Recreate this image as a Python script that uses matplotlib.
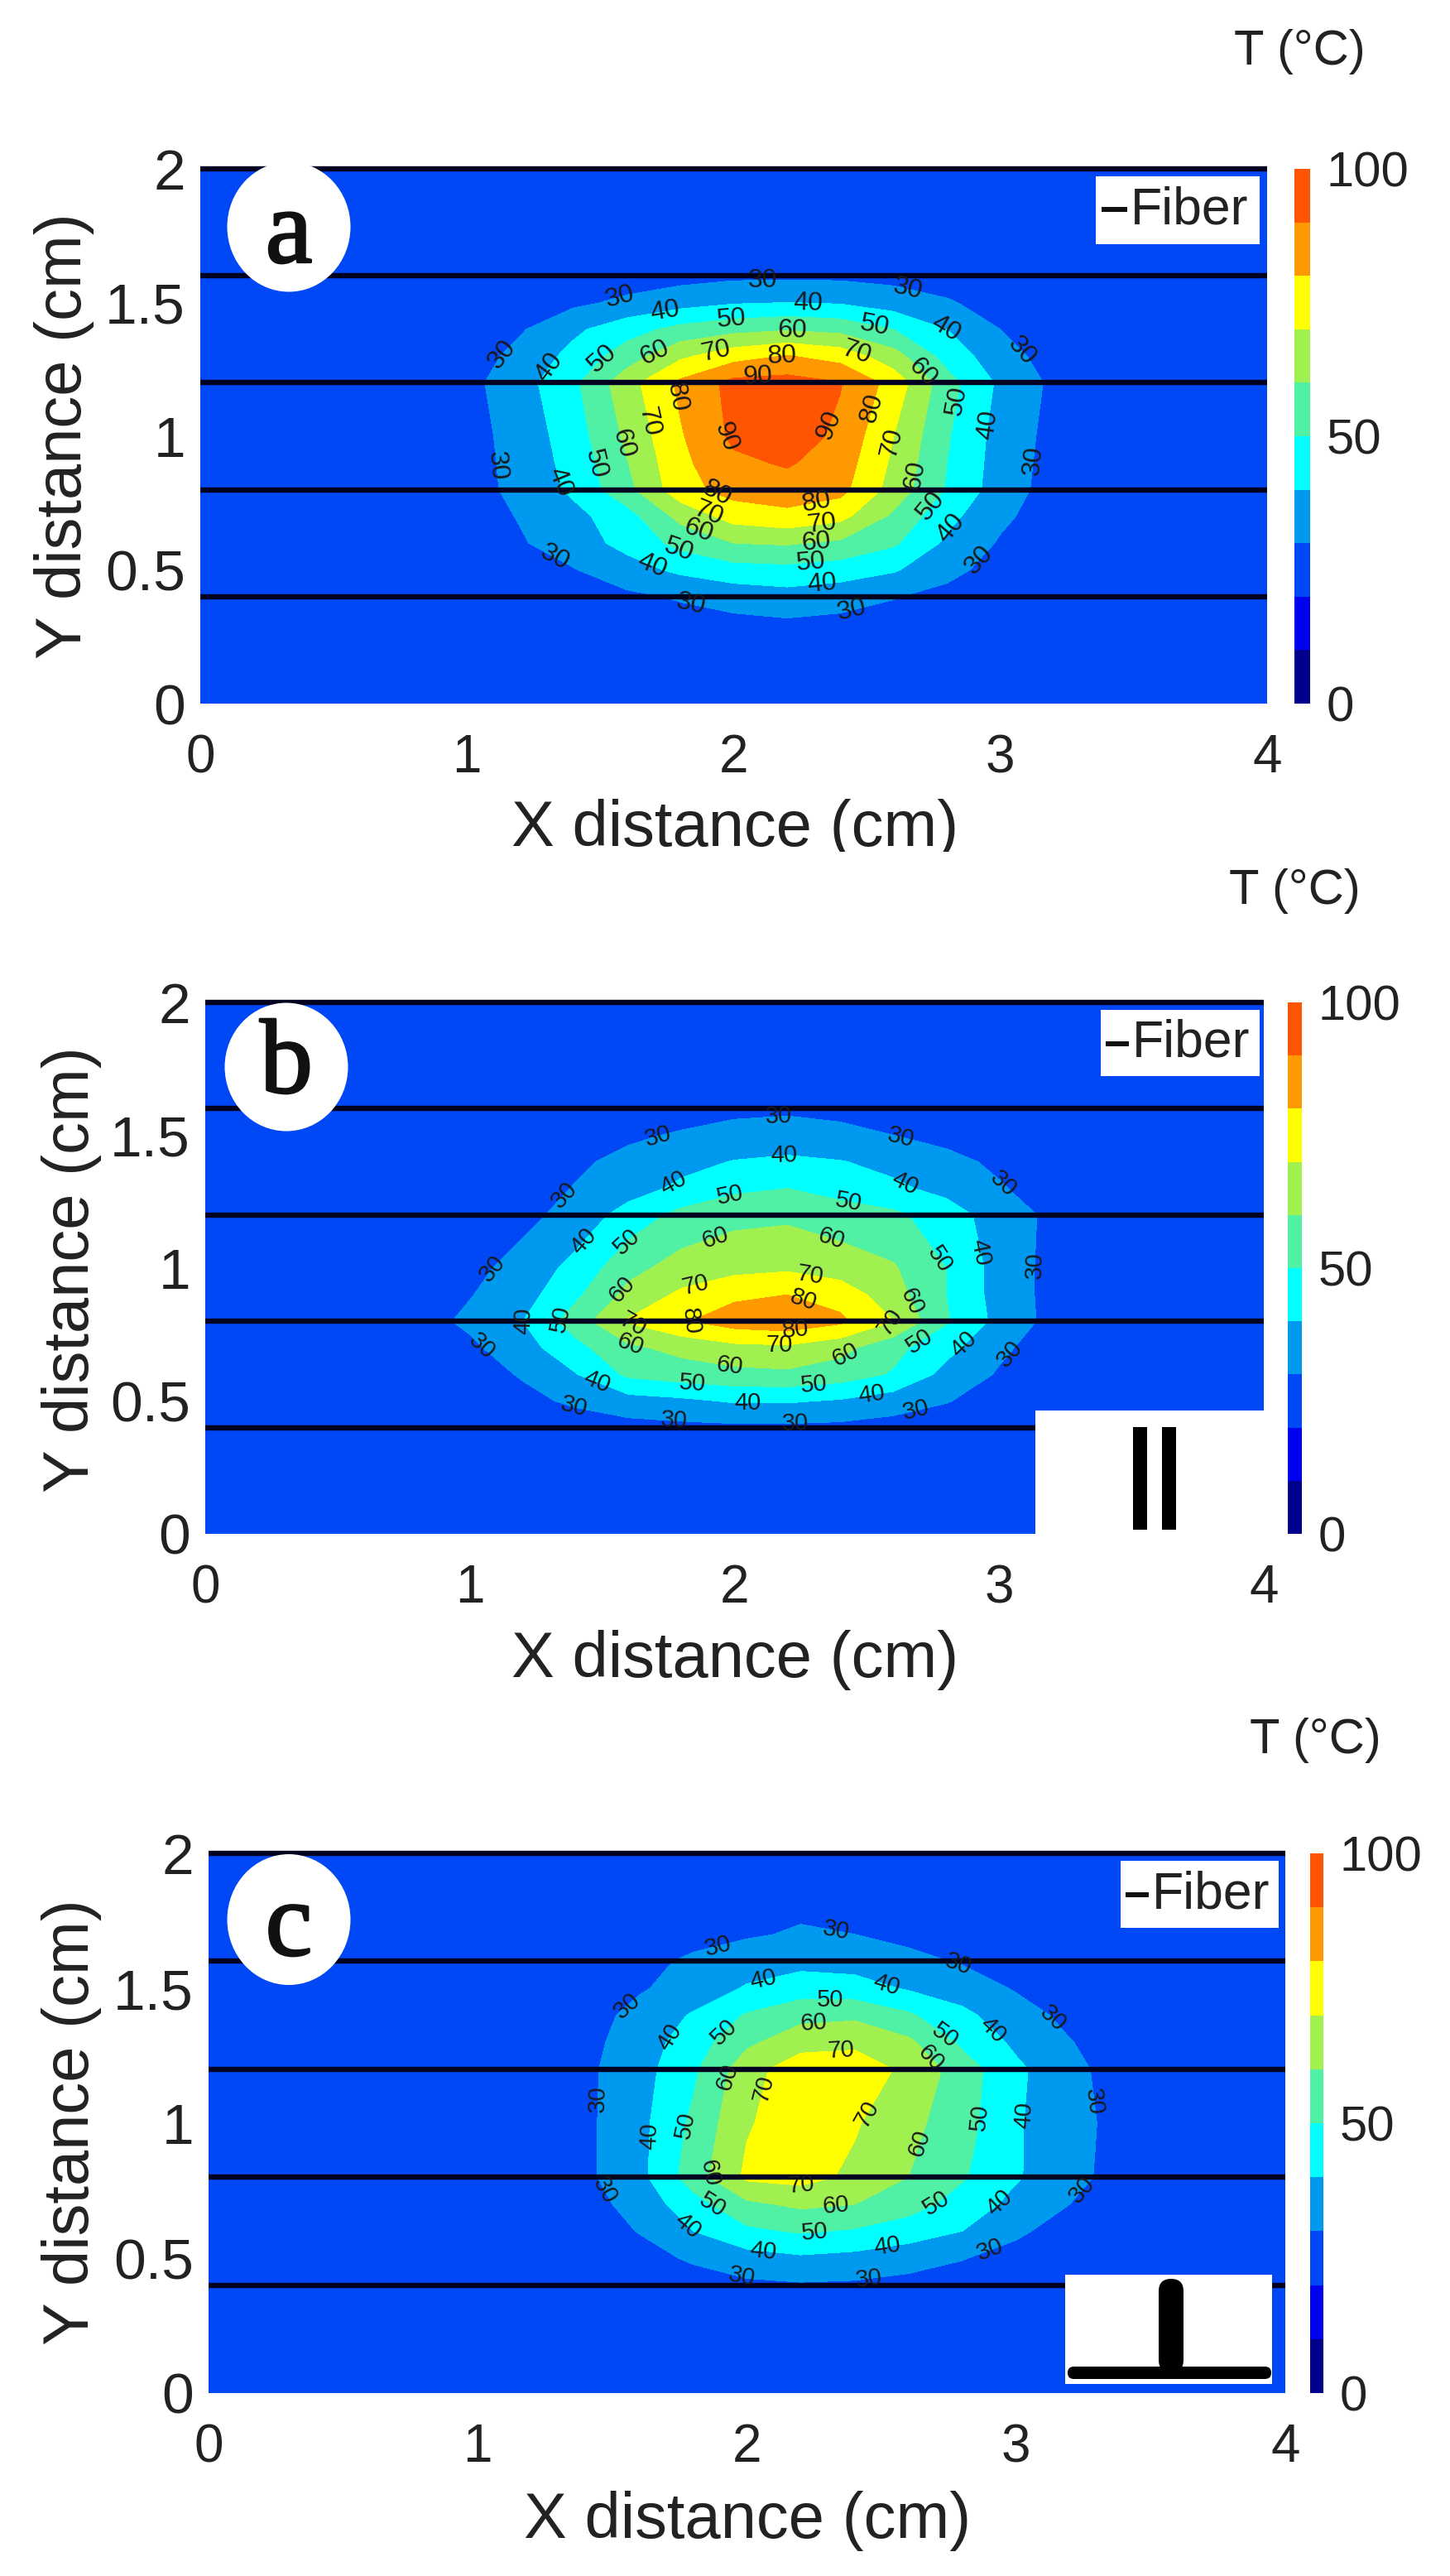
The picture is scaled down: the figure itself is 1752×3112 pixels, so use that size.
#!/usr/bin/env python3
"""Temperature maps around the fiber for three arrangements (a, b, c)."""
import matplotlib

matplotlib.use("Agg")
import matplotlib.pyplot as plt
import matplotlib.patheffects as pe
import numpy as np
from matplotlib.colors import ListedColormap
from matplotlib.patches import Ellipse, FancyBboxPatch, Rectangle

plt.rcParams["font.family"] = ["Liberation Sans", "DejaVu Sans"]

W, H = 1752, 3112
TEXT = "#222222"

# temperature, rows are y_rows, columns are x_cols
BACKGROUND = 23
x_cols = [0.8, 1.0, 1.2, 1.4, 1.6, 1.8, 2.0, 2.2, 2.4, 2.6, 2.8, 3.0, 3.2, 3.4]
y_rows = [0.3, 0.4, 0.5, 0.6, 0.7, 0.8, 0.9, 1.0, 1.2, 1.3, 1.4, 1.5, 1.6, 1.7]

temp_a = [
    [23, 23, 23, 24, 25, 26, 27.5, 28.5, 27.5, 26, 25, 24, 23, 23],
    [23, 23, 24, 25, 28, 31, 34, 36, 34, 30.5, 27, 24, 23, 23],
    [23, 23, 26, 29.5, 36, 42, 46, 47, 45, 41, 33, 26, 23, 23],
    [23, 24, 29, 35.3, 43, 53, 60, 61, 58, 51.5, 38, 29, 24, 23],
    [23, 24.5, 30.7, 37, 46, 63, 74, 77, 73, 58, 43, 32, 25, 23],
    [23, 25.5, 33, 42, 57, 76, 84, 86, 83, 66, 49, 35, 26, 24],
    [23, 25.7, 33.5, 43.5, 59.5, 77.5, 88, 91, 85.5, 68, 50, 35.5, 26.5, 24],
    [23, 26, 34, 45, 62, 79, 92, 95, 88, 70, 51, 36, 27, 24],
    [23, 27, 36, 48, 66, 82, 93, 94, 90.5, 76, 54, 38, 28, 25],
    [23, 25, 33, 43, 55, 68, 76, 80.5, 76, 64, 46, 34, 26, 24],
    [23, 24, 29, 38, 46, 53, 57, 59, 57, 50, 40, 30, 24, 23],
    [23, 23, 24, 28, 32, 36, 39, 40, 39, 35, 31, 26, 23, 23],
    [23, 23, 23, 23, 25, 26.5, 28, 28, 28, 27, 25, 23, 23, 23],
    [23, 23, 23, 23, 23, 23, 23, 23, 23, 23, 23, 23, 23, 23],
]
temp_b = [
    [23, 23, 23, 23, 23, 23, 23, 23, 23, 23, 23, 23, 23, 23],
    [23, 23, 23, 24, 26.5, 27.5, 28, 28, 27.5, 26, 25, 23, 23, 23],
    [23, 23, 27, 32, 36, 38, 41, 41, 39, 35, 30.5, 26, 23, 23],
    [23, 25, 31, 39.5, 52, 55, 57, 58, 55, 49, 37, 29, 24, 23],
    [24, 28, 36, 47, 58, 63, 67, 68, 63, 53, 43, 32, 25, 23],
    [26, 32, 40, 55, 71, 79, 85, 87, 82, 70, 51, 37, 27, 24],
    [24, 29.5, 36, 48, 63, 72, 78, 80, 76, 64, 50, 36, 27, 24],
    [23, 27, 34, 43, 57, 64, 67, 68.5, 65, 61, 50, 36, 27, 24],
    [23, 23, 27, 34, 44, 53, 57, 58, 55, 52, 45, 35, 28, 24],
    [23, 23, 26, 30.5, 36, 42, 48, 50, 46, 42, 37, 31, 25, 23],
    [23, 23, 24, 28.5, 32.5, 37, 40.5, 42, 40.5, 37, 33, 28, 24, 23],
    [23, 23, 23, 25, 28.5, 31, 33, 34, 32, 30, 27, 25, 23, 23],
    [23, 23, 23, 23, 24, 26, 28, 28.5, 28, 26, 24, 23, 23, 23],
    [23, 23, 23, 23, 23, 23, 23, 23, 23, 23, 23, 23, 23, 23],
]
temp_c = [
    [23, 23, 23, 23, 23, 23, 23, 23, 23, 23, 23, 23, 23, 23],
    [23, 23, 23, 23, 23, 25, 28, 29, 28.5, 27, 25, 23, 23, 23],
    [23, 23, 23, 23, 26, 31.5, 36, 38.5, 37, 34, 30.5, 26, 23, 23],
    [23, 23, 23, 24, 30.5, 40, 48, 51, 49, 45, 40, 32, 25, 23],
    [23, 23, 23, 26, 34, 46, 58, 62, 60, 54, 46, 37, 30, 24],
    [23, 23, 23, 28, 37, 55, 72, 73.5, 68, 60, 51, 41, 33, 26],
    [23, 23, 23, 28, 37, 53.5, 70.5, 75, 69.5, 61.5, 52.5, 41, 33.5, 26],
    [23, 23, 23, 28, 37, 52, 69, 76, 71, 63, 54, 41, 34, 26],
    [23, 23, 23, 28, 36, 48, 66, 76, 75, 68, 55, 42, 33, 25],
    [23, 23, 23, 27, 35, 45, 58, 66, 68, 62, 48, 38, 30.5, 24],
    [23, 23, 23, 26, 33, 41, 51, 57, 58, 51.5, 42, 35, 27, 24],
    [23, 23, 23, 25, 29, 34, 41, 45, 44, 39, 36, 29, 24, 23],
    [23, 23, 23, 24, 27.5, 31.5, 35, 37, 36, 33, 29, 25, 23, 23],
    [23, 23, 23, 23, 25, 27, 29, 31, 30, 27, 25, 23, 23, 23],
]

levels = [0, 10, 20, 30, 40, 50, 60, 70, 80, 90, 100]
band_colors = ["#00008c", "#0000f0", "#0047f5", "#0099f0", "#00ffff",
               "#50f0a5", "#a0f050", "#ffff00", "#ff9900", "#ff5500"]
fiber_y = [0.4, 0.8, 1.2, 1.6, 2.0]
x_ticks = [0, 1, 2, 3, 4]
y_ticks = [0, 0.5, 1, 1.5, 2]
y_ticklabels = ["0", "0.5", "1", "1.5", "2"]
cbar_ticks = [0, 50, 100]

# where the contour numbers sit on each map
labels_a = {
    30: [(1.57, 1.53), (2.11, 1.56), (2.65, 1.535), (3.08, 1.32), (3.11, 0.91), (2.93, 0.53),
         (2.44, 0.36), (1.84, 0.38), (1.32, 0.53), (1.11, 0.89), (1.14, 1.30)],
    40: [(1.74, 1.49), (2.28, 1.51), (2.79, 1.39), (2.96, 1.04), (2.82, 0.65), (2.33, 0.46),
         (1.69, 0.51), (1.36, 0.83), (1.32, 1.25)],
    50: [(1.99, 1.45), (2.53, 1.42), (2.86, 1.13), (2.74, 0.74), (2.29, 0.53), (1.79, 0.57),
         (1.50, 0.90), (1.51, 1.29)],
    60: [(2.22, 1.40), (2.71, 1.24), (2.70, 0.85), (2.31, 0.60), (1.86, 0.63), (1.58, 0.97), (1.70, 1.32)],
    70: [(1.93, 1.33), (2.46, 1.31), (2.62, 0.97), (2.33, 0.69), (1.90, 0.70), (1.66, 1.05)],
    80: [(2.18, 1.30), (2.54, 1.10), (2.31, 0.75), (1.93, 0.77), (1.75, 1.14)],
    90: [(2.09, 1.24), (2.36, 1.04), (1.96, 0.99)],
}
labels_b = {
    30: [(2.17, 1.54), (1.71, 1.50), (2.63, 1.50), (3.03, 1.33), (3.13, 1.01), (3.05, 0.67), (2.69, 0.45),
         (2.23, 0.42), (1.77, 0.42), (1.39, 0.47), (1.03, 0.69), (1.08, 1.0), (1.34, 1.29)],
    40: [(2.19, 1.41), (1.75, 1.35), (2.64, 1.31), (2.89, 1.05), (2.88, 0.70), (2.52, 0.51), (2.05, 0.48),
         (1.47, 0.55), (1.19, 0.81), (1.41, 1.12)],
    50: [(1.98, 1.29), (2.43, 1.24), (2.74, 1.01), (2.72, 0.69), (2.30, 0.56), (1.84, 0.56), (1.33, 0.82), (1.59, 1.10)],
    60: [(1.92, 1.14), (2.37, 1.12), (2.68, 0.88), (2.44, 0.64), (1.98, 0.62), (1.60, 0.69), (1.55, 0.94)],
    70: [(1.84, 0.99), (2.29, 1.01), (2.59, 0.79), (2.17, 0.69), (1.61, 0.76)],
    80: [(2.26, 0.88), (2.23, 0.76), (1.81, 0.83)],
}
labels_c = {
    30: [(2.33, 1.71), (1.89, 1.67), (2.79, 1.61), (3.15, 1.40), (3.29, 1.08), (3.25, 0.75), (2.91, 0.51),
         (2.45, 0.44), (1.98, 0.43), (1.47, 0.75), (1.45, 1.09), (1.55, 1.44)],
    40: [(2.06, 1.53), (2.52, 1.52), (2.92, 1.35), (3.04, 1.03), (2.93, 0.71), (2.52, 0.55), (2.06, 0.51),
         (1.77, 0.61), (1.67, 0.95), (1.74, 1.30)],
    50: [(2.31, 1.45), (2.74, 1.33), (2.87, 1.02), (2.69, 0.72), (2.25, 0.61), (1.85, 0.66), (1.78, 0.99), (1.93, 1.32)],
    60: [(2.25, 1.36), (2.68, 1.24), (2.66, 0.92), (2.33, 0.71), (1.84, 0.82), (1.94, 1.17)],
    70: [(2.35, 1.25), (2.47, 1.02), (2.20, 0.78), (2.02, 1.14)],
}

# pixel layout of each panel
panels = [
    dict(temp=temp_a, labels=labels_a, letter="a", label_size=23, ax=(242, 204, 1531, 850), cbar=(1564, 1583),
         ylabel=(78, 527), xlabel=(888, 1001), unit=(1570, 63), circle=(349, 274, 149, 157), letter_y=286,
         legend=(1324, 213, 1522, 295), dash=(1331, 1362, 253)),
    dict(temp=temp_b, labels=labels_b, letter="b", label_size=21, ax=(248, 1211, 1527, 1853), cbar=(1556, 1573),
         ylabel=(87, 1534), xlabel=(888, 2005), unit=(1564, 1076), circle=(346, 1289, 149, 155), letter_y=1289,
         legend=(1330, 1220, 1522, 1300), dash=(1336, 1364, 1261)),
    dict(temp=temp_c, labels=labels_c, letter="c", label_size=21, ax=(252, 2239, 1553, 2891), cbar=(1583, 1599),
         ylabel=(87, 2564), xlabel=(903, 3045), unit=(1589, 2103), circle=(349, 2319, 149, 158), letter_y=2331,
         legend=(1354, 2248, 1545, 2329), dash=(1360, 1388, 2289)),
]


def fx(x):
    return x / W


def fy(y):
    return 1 - y / H


def y_span(h):
    return h / H


def px_rect(fig, x0, y0, x1, y1, color="white", zorder=5):
    fig.add_artist(Rectangle((fx(x0), fy(y1)), fx(x1 - x0), y_span(y1 - y0), transform=fig.transFigure,
                             facecolor=color, edgecolor="none", zorder=zorder))


def px_text(fig, x, y, text, size, **kw):
    kw.setdefault("ha", "center")
    kw.setdefault("va", "center")
    kw.setdefault("color", TEXT)
    return fig.text(fx(x), fy(y), text, fontsize=size, zorder=7, **kw)


def draw_panel(fig, p, cmap):
    x0, y0, x1, y1 = p["ax"]
    ax = fig.add_axes([fx(x0), fy(y1), fx(x1 - x0), y_span(y1 - y0)])

    grid_x = [0, *x_cols, 4]
    grid_y = [0, *y_rows, 2]
    temp = np.pad(np.array(p["temp"], dtype=float), 1, constant_values=BACKGROUND)
    cf = ax.contourf(grid_x, grid_y, temp, levels=levels, cmap=cmap, vmin=0, vmax=100, zorder=1)
    ax.hlines(fiber_y, 0, 4, color="#000020", lw=4.6, zorder=2, clip_on=False)

    ax.set_xlim(0, 4)
    ax.set_ylim(0, 2)
    ax.set_xticks(x_ticks)
    ax.set_yticks(y_ticks, y_ticklabels)
    ax.tick_params(length=0, labelcolor=TEXT)
    ax.tick_params(axis="x", pad=26, labelsize=46)
    ax.tick_params(axis="y", pad=13, labelsize=50)
    for spine in ax.spines.values():
        spine.set_visible(False)

    for level, points in p["labels"].items():
        line = ax.contour(grid_x, grid_y, temp, levels=[level], colors="k", linewidths=0, zorder=3)
        ax.clabel(line, fmt="%d", colors="#1a1a1a", fontsize=p["label_size"], inline=False,
                  manual=points, zorder=4)

    c0, c1 = p["cbar"]
    cax = fig.add_axes([fx(c0), fy(y1), fx(c1 - c0), y_span(y1 - y0)])
    cbar = fig.colorbar(cf, cax=cax, ticks=cbar_ticks)
    cbar.outline.set_visible(False)
    cbar.ax.tick_params(length=0, labelsize=43, labelcolor=TEXT, pad=14)

    px_text(fig, *p["unit"], "T (°C)", 43)
    px_text(fig, *p["xlabel"], "X distance (cm)", 56)
    px_text(fig, *p["ylabel"], "Y distance (cm)", 56, rotation=90)

    cx, cy, cw, ch = p["circle"]
    fig.add_artist(Ellipse((fx(cx), fy(cy)), fx(cw), y_span(ch), transform=fig.transFigure,
                           facecolor="white", edgecolor="none", zorder=5))
    letter = px_text(fig, cx, p["letter_y"], p["letter"], 92, family="Liberation Serif", color="#111111")
    letter.set_path_effects([pe.withStroke(linewidth=2, foreground="#111111")])

    lx0, ly0, lx1, ly1 = p["legend"]
    px_rect(fig, lx0, ly0, lx1, ly1)
    dx0, dx1, dy = p["dash"]
    px_rect(fig, dx0, dy - 3, dx1, dy + 3, color="#111111", zorder=6)
    px_text(fig, dx1 + 4, (ly0 + ly1) / 2, "Fiber", 45, ha="left")


fig = plt.figure(figsize=(W / 100, H / 100), dpi=100, facecolor="white")
jet_bands = ListedColormap(band_colors)
for panel in panels:
    draw_panel(fig, panel, jet_bands)

# the top panel's x label is cut off at the bottom in the original
px_rect(fig, 500, 1029, 1300, 1050, zorder=8)

# orientation sketches: two parallel fibers in b, a T shape in c
px_rect(fig, 1251, 1704, 1530, 1855)
px_rect(fig, 1369, 1724, 1386, 1848, color="black", zorder=6)
px_rect(fig, 1404, 1724, 1421, 1848, color="black", zorder=6)

px_rect(fig, 1287, 2748, 1537, 2880)
for rx0, ry0, rx1, ry1 in [(1290, 2859, 1536, 2874), (1400, 2753, 1430, 2866)]:
    r = min(rx1 - rx0, ry1 - ry0) / 2
    fig.add_artist(FancyBboxPatch((rx0 + r, H - ry1 + r), rx1 - rx0 - 2 * r, ry1 - ry0 - 2 * r,
                                  boxstyle=f"round,pad={r},rounding_size={r}", transform=None,
                                  facecolor="black", edgecolor="none", zorder=6))

fig.savefig("out.png", dpi=100, facecolor="white")
